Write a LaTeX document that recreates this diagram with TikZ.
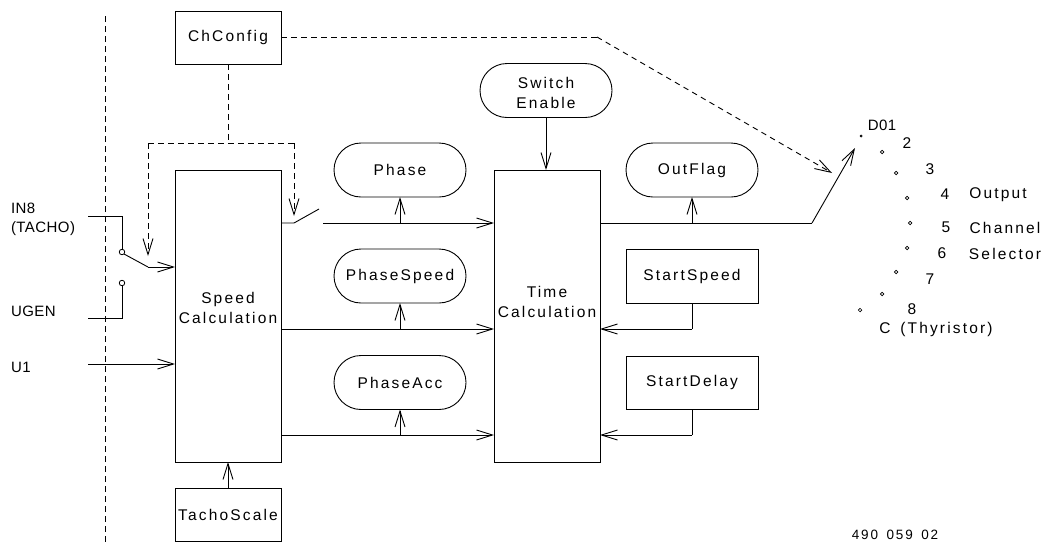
\documentclass[tikz,border=0pt]{standalone}
\usepackage{fontspec}
\setmainfont{Liberation Sans}[LetterSpace=14,WordSpace=1.5]
\newfontfamily\capsfont{Liberation Sans}[LetterSpace=3]
\usetikzlibrary{arrows.meta,shapes.misc}
\tikzset{
  wire/.style={black,line width=0.9pt},
  ctrl/.style={black,line width=0.9pt,dash pattern=on 5.5pt off 4.5pt},
  tip/.style={-{Straight Barb[length=16pt,width=10pt,line width=0.9pt]}},
  lbl/.style={inner sep=0pt,outer sep=0pt,align=center,font=\fontsize{15.5}{20}\selectfont},
  capslbl/.style={lbl,anchor=west,align=left,font=\capsfont\fontsize{15}{19}\selectfont},
  blockbox/.style={lbl,draw,line width=0.9pt,rectangle},
  pill/.style={lbl,draw,line width=0.9pt,rounded rectangle,minimum width=132pt,minimum height=54pt},
  contact/.style={draw,circle,line width=0.8pt,inner sep=0pt,outer sep=0pt,minimum size=5.5pt},
  pin/.style={draw,circle,line width=0.7pt,inner sep=0pt,outer sep=0pt,minimum size=3.5pt}
}
\begin{document}
\begin{tikzpicture}[x=1pt,y=1pt]
\useasboundingbox (0,0) rectangle (1048,-542);
% boxes
\node [blockbox,minimum width=106pt,minimum height=53pt] (chconfig) at (228,-37.5) {ChConfig};
\node [blockbox,minimum width=106pt,minimum height=292pt,label={[lbl,yshift=8pt]center:{Speed\\Calculation}}] (speed) at (228,-316) {};
\node [blockbox,minimum width=106pt,minimum height=292pt,label={[lbl,yshift=14pt]center:{Time\\Calculation}}] (time) at (547,-316) {};
\node [blockbox,minimum width=106pt,minimum height=53pt] (tacho) at (228,-514.5) {TachoScale};
\node [blockbox,minimum width=132pt,minimum height=54pt] (startspeed) at (692,-276) {StartSpeed};
\node [blockbox,minimum width=132pt,minimum height=53pt] (startdelay) at (692,-382.5) {StartDelay};
% pills
\node [pill,label={[lbl,yshift=-2.5pt]center:{Switch\\Enable}}] (enable) at (546,-90.5) {};
\node [pill] (phase) at (400,-170) {Phase};
\node [pill] (phasespeed) at (400,-276) {PhaseSpeed};
\node [pill] (phaseacc) at (400,-382.5) {PhaseAcc};
\node [pill] (outflag) at (692,-170) {OutFlag};
% left side labels
\node [capslbl] (in8) at (11,-219) {IN8\\(TACHO)};
\node [capslbl] (ugen) at (11,-311) {UGEN};
\node [capslbl] (u1) at (11,-367) {U1};
% dashed border
\coordinate (bordertop) at (105,-16);
\coordinate (borderbot) at (105,-542);
\draw [ctrl] (bordertop) -- (borderbot);
% input switch
\node [contact] (c1) at (122,-252) {};
\node [contact] (c2) at (122,-283) {};
\coordinate (in8a) at (88,-216);
\coordinate (in8b) at (122,-216);
\coordinate (ugena) at (88,-318);
\coordinate (ugenb) at (122,-318);
\coordinate (u1a) at (88,-364);
\coordinate (u1b) at (175,-364);
\coordinate (arm) at (148,-267);
\coordinate (armend) at (175,-267);
\draw [wire] (in8a) -- (in8b) -- (c1.north);
\draw [wire] (ugena) -- (ugenb) -- (c2.south);
\draw [wire] (c1.south east) -- (arm);
\draw [wire,tip] (arm) -- (armend);
\draw [wire,tip] (u1a) -- (u1b);
% output switch
\coordinate (sw0) at (281,-223);
\coordinate (sw1) at (294,-223);
\coordinate (sw2) at (319,-209);
\coordinate (sw3) at (323,-223);
\coordinate (sw4) at (494,-223);
\draw [wire] (sw0) -- (sw1) -- (sw2);
\draw [wire,tip] (sw3) -- (sw4);
\coordinate (midl) at (281,-329);
\coordinate (midr) at (494,-329);
\coordinate (lowl) at (281,-435);
\coordinate (lowr) at (494,-435);
\draw [wire,tip] (midl) -- (midr);
\draw [wire,tip] (lowl) -- (lowr);
% taps up to the pills
\coordinate (tap1) at (400,-223);
\coordinate (tap2) at (400,-329);
\coordinate (tap3) at (400,-435);
\coordinate (tap4) at (692,-223);
\draw [wire,tip] (tap1) -- (phase.south);
\draw [wire,tip] (tap2) -- (phasespeed.south);
\draw [wire,tip] (tap3) -- (phaseacc.south);
\draw [wire,tip] (tap4) -- (outflag.south);
\draw [wire,tip] (enable.south) -- (enable.south |- time.north);
\draw [wire,tip] (tacho.north) -- (speed.south);
% start values
\coordinate (st1) at (692,-329);
\coordinate (st2) at (600,-329);
\coordinate (st3) at (692,-435);
\coordinate (st4) at (600,-435);
\draw [wire] (startspeed.south) -- (st1);
\draw [wire,tip] (st1) -- (st2);
\draw [wire] (startdelay.south) -- (st3);
\draw [wire,tip] (st3) -- (st4);
% output selector
\coordinate (outa) at (600,-223);
\coordinate (outb) at (812,-223);
\coordinate (outc) at (855,-148);
\draw [wire] (outa) -- (outb);
\draw [wire,tip] (outb) -- (outc);
\node [pin,minimum size=2pt] (p1) at (861,-136) {};
\node [pin] (p2) at (882,-152) {};
\node [pin] (p3) at (896,-173) {};
\node [pin] (p4) at (907,-198) {};
\node [pin] (p5) at (910,-223) {};
\node [pin] (p6) at (907,-248) {};
\node [pin] (p7) at (896,-272) {};
\node [pin] (p8) at (882,-294) {};
\node [pin] (p9) at (860,-310) {};
\node [capslbl,anchor=center] (lab1) at (882,-125) {D01};
\node [lbl] (lab2) at (907,-143) {2};
\node [lbl] (lab3) at (930,-169) {3};
\node [lbl] (lab4) at (945,-194) {4};
\node [lbl] (lab5) at (946,-227) {5};
\node [lbl] (lab6) at (942,-253) {6};
\node [lbl] (lab7) at (930,-279) {7};
\node [lbl] (lab8) at (912,-309) {8};
\node [lbl] (labout) at (998,-195) {Output};
\node [lbl] (labch) at (1005,-228) {Channel};
\node [lbl] (labsel) at (1005,-254) {Selector};
\node [lbl] (labc) at (936,-329) {C (Thyristor)};
\node [lbl,font=\fontsize{13.5}{16}\selectfont] (drawno) at (895,-535) {490 059 02};
% dashed control lines
\coordinate (cfg1) at (597,-37);
\coordinate (cfg2) at (832,-173);
\coordinate (cfgd) at (228,-143);
\coordinate (cfgl) at (148,-143);
\coordinate (cfgr) at (294,-143);
\coordinate (cfgl2) at (148,-256);
\coordinate (cfgr2) at (294,-216);
\draw [ctrl] (chconfig.east |- cfg1) -- (cfg1);
\draw [ctrl,tip] (cfg1) -- (cfg2);
\draw [ctrl] (chconfig.south) -- (cfgd);
\draw [ctrl] (cfgl) -- (cfgr);
\draw [ctrl,tip] (cfgl) -- (cfgl2);
\draw [ctrl,tip] (cfgr) -- (cfgr2);
\end{tikzpicture}
\end{document}
